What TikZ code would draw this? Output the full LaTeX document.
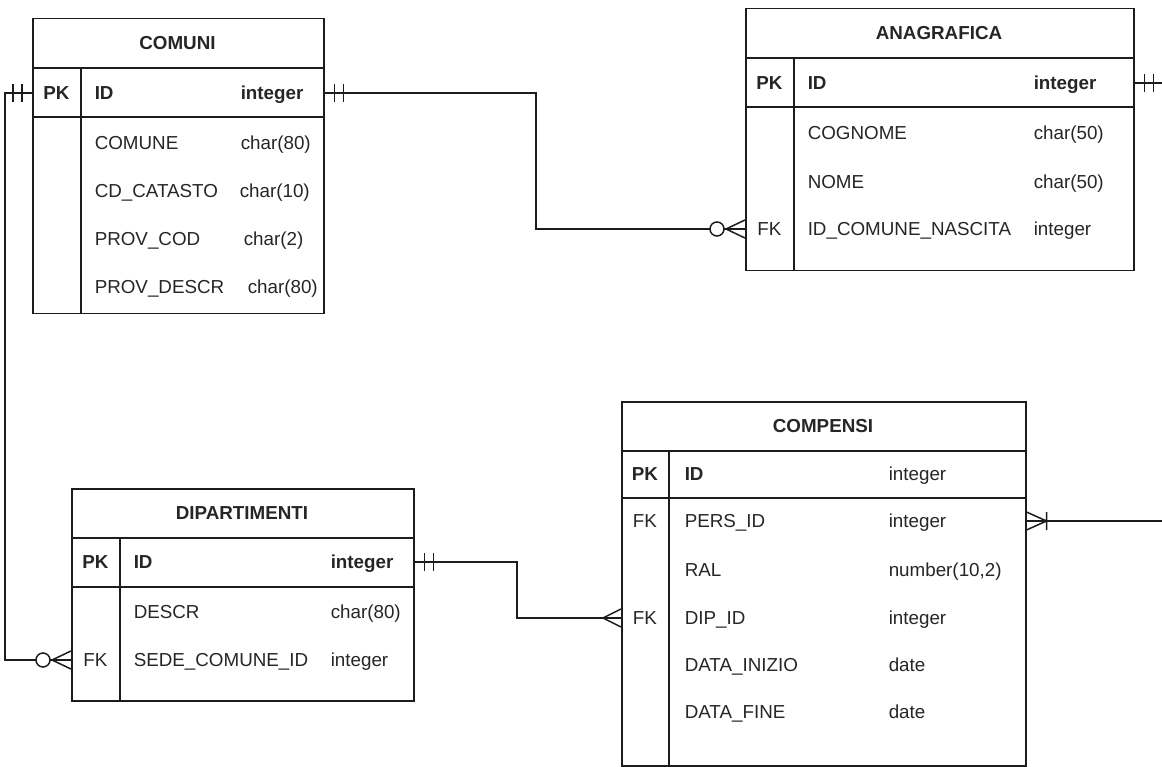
\documentclass[tikz,border=0pt]{standalone}
\usepackage{fontspec}
\setmainfont{Liberation Sans}
\usepackage{xcolor}
\definecolor{erline}{HTML}{1C1C1C}
\definecolor{ertext}{HTML}{262626}
\newcommand{\erfont}{\fontsize{18.8}{22}\selectfont}
\tikzset{
  mandone/.pic={\draw (10,-9) -- (10,9) (19,-9) -- (19,9);},
  zeromany/.pic={\draw (0,-9) -- (19,0) -- (0,9) (0,0) -- (19,0); \draw[fill=white] (28,0) circle[radius=7];},
  crowmany/.pic={\draw (0,-9) -- (18,0) -- (0,9);},
  onemany/.pic={\draw (0,-9) -- (20,0) -- (0,9) (20,-9) -- (20,9);}
}

\begin{document}
\begin{tikzpicture}[
  x=1pt, y=-1pt,
  line width=1.5pt, color=erline,
  tbl/.style={draw=erline, line width=1.5pt, anchor=north west, inner sep=0pt},
  ttl/.style={font=\erfont\bfseries, text=ertext, inner sep=0pt},
  key/.style={font=\erfont, text=ertext, inner sep=0pt, text height=13.5pt, text depth=0pt},
  bkey/.style={key, font=\erfont\bfseries},
  fld/.style={key, anchor=west},
  bfld/.style={bkey, anchor=west},
  rel/.style={line width=1.5pt, color=erline}
]
\fill[white] (0,0) rectangle (1162,767);
\useasboundingbox (0,0) rectangle (1162,767);

% COMUNI
\node[tbl, minimum width=291pt, minimum height=295pt] (comuni) at (32,18) {};
\draw (32,68) -- (323,68) (32,117) -- (323,117) (81,68) -- (81,313);
\node[ttl] (comuni-ttl) at (177.5,43) {COMUNI};
\node[bkey] (comuni-pk) at (56.5,93) {PK};
\node[bfld] (comuni-id) at (94,93) {ID};
\node[bfld] (comuni-idt) at (240,93) {integer};
\foreach \y/\n/\tx/\t [count=\i] in {143/COMUNE/240/char(80), 191/CD\_CATASTO/239/char(10), 239/PROV\_COD/243/char(2), 287/PROV\_DESCR/247/char(80)}
{
  \node[fld] (comuni-f\i) at (94,\y) {\n};
  \node[fld] (comuni-t\i) at (\tx,\y) {\t};
}

% ANAGRAFICA
\node[tbl, minimum width=388pt, minimum height=262pt] (anagrafica) at (745,8) {};
\draw (745,58) -- (1133,58) (745,107) -- (1133,107) (794,58) -- (794,270);
\node[ttl] (anagrafica-ttl) at (939,33) {ANAGRAFICA};
\node[bkey] (anagrafica-pk) at (769.5,83) {PK};
\node[bfld] (anagrafica-id) at (807,83) {ID};
\node[bfld] (anagrafica-idt) at (1033,83) {integer};
\node[key] (anagrafica-fk) at (769.5,229) {FK};
\foreach \y/\n/\t [count=\i] in {133/COGNOME/char(50), 182/NOME/char(50), 229/ID\_COMUNE\_NASCITA/integer}
{
  \node[fld] (anagrafica-f\i) at (807,\y) {\n};
  \node[fld] (anagrafica-t\i) at (1033,\y) {\t};
}

% DIPARTIMENTI
\node[tbl, minimum width=342pt, minimum height=212pt] (dipartimenti) at (71,488) {};
\draw (71,538) -- (413,538) (71,587) -- (413,587) (120,538) -- (120,700);
\node[ttl] (dip-ttl) at (242,513) {DIPARTIMENTI};
\node[bkey] (dip-pk) at (95.5,562) {PK};
\node[bfld] (dip-id) at (133,562) {ID};
\node[bfld] (dip-idt) at (330,562) {integer};
\node[key] (dip-fk) at (95.5,660) {FK};
\foreach \y/\n/\t [count=\i] in {612/DESCR/char(80), 660/SEDE\_COMUNE\_ID/integer}
{
  \node[fld] (dip-f\i) at (133,\y) {\n};
  \node[fld] (dip-t\i) at (330,\y) {\t};
}

% COMPENSI
\node[tbl, minimum width=404pt, minimum height=364pt] (compensi) at (621,401) {};
\draw (621,451) -- (1025,451) (621,498) -- (1025,498) (669,451) -- (669,765);
\node[ttl] (compensi-ttl) at (823,426) {COMPENSI};
\node[bkey] (compensi-pk) at (645,474) {PK};
\node[bfld] (compensi-id) at (684,474) {ID};
\node[fld] (compensi-idt) at (888,474) {integer};
\node[key] (compensi-fk1) at (645,521) {FK};
\node[key] (compensi-fk2) at (645,618) {FK};
\foreach \y/\n/\t [count=\i] in {521/PERS\_ID/integer, 570/RAL/{number(10,2)}, 618/DIP\_ID/integer, 665/DATA\_INIZIO/date, 712/DATA\_FINE/date}
{
  \node[fld] (compensi-f\i) at (684,\y) {\n};
  \node[fld] (compensi-t\i) at (888,\y) {\t};
}

% relations
\coordinate (bendA) at (536,0);
\coordinate (bendB) at (5,0);
\coordinate (bendC) at (517,0);
\coordinate (eastside) at (1162,0);

\draw[rel] (comuni.east |- comuni-id) -| (bendA |- anagrafica-fk) -- (anagrafica.west |- anagrafica-fk);
\draw[rel] (anagrafica.east |- anagrafica-id) -- (eastside |- anagrafica-id);
\draw[rel] (comuni.west |- comuni-id) -| (bendB |- dip-fk) -- (dipartimenti.west |- dip-fk);
\draw[rel] (dipartimenti.east |- dip-id) -| (bendC |- compensi-fk2) -- (compensi.west |- compensi-fk2);
\draw[rel] (compensi.east |- compensi-fk1) -- (eastside |- compensi-fk1);

\pic[rel] at (comuni.east |- comuni-id) {mandone};
\pic[rel, rotate=180] at (anagrafica.west |- anagrafica-fk) {zeromany};
\pic[rel] at (anagrafica.east |- anagrafica-id) {mandone};
\pic[rel, rotate=180] at (comuni.west |- comuni-id) {mandone};
\pic[rel, rotate=180] at (dipartimenti.west |- dip-fk) {zeromany};
\pic[rel] at (dipartimenti.east |- dip-id) {mandone};
\pic[rel, rotate=180] at (compensi.west |- compensi-fk2) {crowmany};
\pic[rel] at (compensi.east |- compensi-fk1) {onemany};

\end{tikzpicture}
\end{document}
